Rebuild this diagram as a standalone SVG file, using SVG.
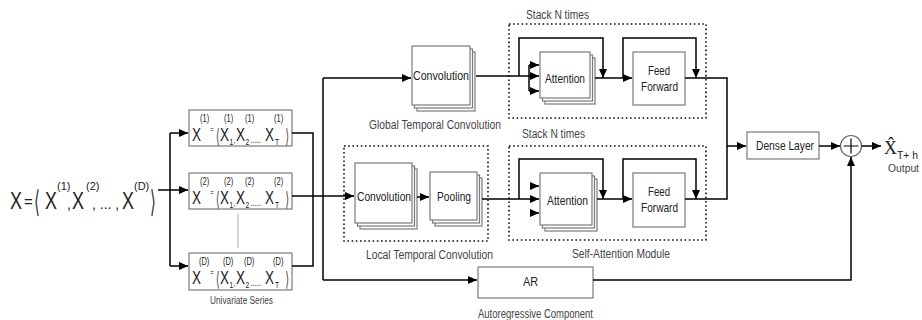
<svg xmlns="http://www.w3.org/2000/svg" width="922" height="320" viewBox="0 0 922 320">
<defs>
<style>
.t{font-family:"Liberation Sans",Arial,sans-serif;fill:#222}
.c{font-family:"Liberation Sans",Arial,sans-serif;fill:#444}
.box{fill:#fff;stroke:#7a7a7a;stroke-width:1.2}
.dot{fill:none;stroke:#111;stroke-width:1.6;stroke-dasharray:1.6 2.6}
.ln{fill:none;stroke:#000;stroke-width:1.5}
.ar{fill:none;stroke:#000;stroke-width:1.5;marker-end:url(#ah)}
.br{font-family:"DejaVu Sans",sans-serif;fill:#333}
.X{font-size:18px}
.sp{font-size:10px}
.sb{font-size:9px}
</style>
<marker id="ah" markerWidth="10" markerHeight="10" refX="9" refY="5" orient="auto" markerUnits="userSpaceOnUse">
<path d="M0,1 L9,5 L0,9 z" fill="#000"/>
</marker>
</defs>
<rect width="922" height="320" fill="#fff"/>

<g id="input-formula">
<text class="t" transform="translate(10,209) scale(0.78,1)" font-size="23">X</text>
<text class="t" x="24" y="207" font-size="15">=</text>
<text class="br" transform="translate(34,212) scale(0.5,1)" font-size="30">⟨</text>
<text class="t" transform="translate(45,209) scale(0.78,1)" font-size="23">X</text>
<text class="t" x="57" y="190" font-size="11">(1)</text>
<text class="t" x="67" y="209" font-size="14">,</text>
<text class="t" transform="translate(72,209) scale(0.78,1)" font-size="23">X</text>
<text class="t" x="86" y="190" font-size="11">(2)</text>
<text class="t" x="92" y="209" font-size="14">, ... ,</text>
<text class="t" transform="translate(122,209) scale(0.78,1)" font-size="23">X</text>
<text class="t" x="134" y="190" font-size="11">(D)</text>
<text class="br" transform="translate(150,212) scale(0.5,1)" font-size="30">⟩</text>
</g>

<g id="series-1">
<rect class="box" x="189" y="110" width="103" height="36"/>
<g transform="translate(0,110) scale(0.75,1)">
<text class="t X" x="256" y="31">X</text>
<text class="t sp" x="266.7" y="12">(1)</text>
<text class="t sb" x="280" y="22">=</text>
<g transform="translate(288,33) scale(0.6,1)"><text class="br" font-size="20">⟨</text></g>
<text class="t X" x="293.3" y="31">X</text>
<text class="t sb" x="306" y="35">1</text>
<text class="t sp" x="298.7" y="12">(1)</text>
<text class="t sb" x="311.3" y="33">,</text>
<text class="t X" x="314.7" y="31">X</text>
<text class="t sb" x="327.3" y="35">2</text>
<text class="t sp" x="326.7" y="12">(1)</text>
<text class="t sp" x="334" y="33">.....</text>
<text class="t X" x="353.3" y="31">X</text>
<text class="t sb" x="366.7" y="35">T</text>
<text class="t sp" x="365.3" y="12">(1)</text>
<g transform="translate(380.7,33) scale(0.6,1)"><text class="br" font-size="20">⟩</text></g>
</g>
</g>

<g id="series-2">
<rect class="box" x="189" y="173" width="103" height="36"/>
<g transform="translate(0,173) scale(0.75,1)">
<text class="t X" x="256" y="31">X</text>
<text class="t sp" x="266.7" y="12">(2)</text>
<text class="t sb" x="280" y="22">=</text>
<g transform="translate(288,33) scale(0.6,1)"><text class="br" font-size="20">⟨</text></g>
<text class="t X" x="293.3" y="31">X</text>
<text class="t sb" x="306" y="35">1</text>
<text class="t sp" x="298.7" y="12">(2)</text>
<text class="t sb" x="311.3" y="33">,</text>
<text class="t X" x="314.7" y="31">X</text>
<text class="t sb" x="327.3" y="35">2</text>
<text class="t sp" x="326.7" y="12">(2)</text>
<text class="t sp" x="334" y="33">.....</text>
<text class="t X" x="353.3" y="31">X</text>
<text class="t sb" x="366.7" y="35">T</text>
<text class="t sp" x="365.3" y="12">(2)</text>
<g transform="translate(380.7,33) scale(0.6,1)"><text class="br" font-size="20">⟩</text></g>
</g>
</g>

<g id="series-D">
<rect class="box" x="189" y="253" width="103" height="37"/>
<g transform="translate(0,253) scale(0.75,1)">
<text class="t X" x="256" y="31">X</text>
<text class="t sp" x="265.3" y="12">(D)</text>
<text class="t sb" x="280" y="22">=</text>
<g transform="translate(288,33) scale(0.6,1)"><text class="br" font-size="20">⟨</text></g>
<text class="t X" x="293.3" y="31">X</text>
<text class="t sb" x="306" y="35">1</text>
<text class="t sp" x="297.3" y="12">(D)</text>
<text class="t sb" x="311.3" y="33">,</text>
<text class="t X" x="314.7" y="31">X</text>
<text class="t sb" x="327.3" y="35">2</text>
<text class="t sp" x="325.3" y="12">(D)</text>
<text class="t sp" x="334" y="33">.....</text>
<text class="t X" x="353.3" y="31">X</text>
<text class="t sb" x="366.7" y="35">T</text>
<text class="t sp" x="364" y="12">(D)</text>
<g transform="translate(380.7,33) scale(0.6,1)"><text class="br" font-size="20">⟩</text></g>
</g>
<text class="c" x="210" y="304" font-size="10" textLength="63" lengthAdjust="spacingAndGlyphs">Univariate Series</text>
</g>

<g id="global-conv">
<rect class="box" x="417" y="52" width="58" height="59"/>
<rect class="box" x="414.5" y="49" width="58" height="59"/>
<rect class="box" x="412" y="46" width="58" height="59"/>
<text class="t" x="413" y="80" font-size="13" textLength="56" lengthAdjust="spacingAndGlyphs">Convolution</text>
<text class="c" x="369" y="129" font-size="12" textLength="132" lengthAdjust="spacingAndGlyphs">Global Temporal Convolution</text>
</g>

<g id="local-conv">
<rect class="dot" x="344" y="146" width="144" height="95"/>
<rect class="box" x="360" y="169" width="57" height="60"/>
<rect class="box" x="357.5" y="166" width="57" height="60"/>
<rect class="box" x="355" y="163" width="57" height="60"/>
<text class="t" x="357" y="201" font-size="13" textLength="54" lengthAdjust="spacingAndGlyphs">Convolution</text>
<rect class="box" x="435" y="178" width="47" height="48"/>
<rect class="box" x="432.5" y="175" width="47" height="48"/>
<rect class="box" x="430" y="172" width="47" height="48"/>
<text class="t" x="437" y="201" font-size="13" textLength="34" lengthAdjust="spacingAndGlyphs">Pooling</text>
<text class="c" x="366" y="259" font-size="12" textLength="127" lengthAdjust="spacingAndGlyphs">Local Temporal Convolution</text>
</g>

<g id="stack-top">
<text class="c" x="526" y="19" font-size="12" textLength="63" lengthAdjust="spacingAndGlyphs">Stack N times</text>
<rect class="dot" x="509" y="24" width="197" height="94"/>
<rect class="box" x="545" y="58" width="50" height="46"/>
<rect class="box" x="542.5" y="55" width="50" height="46"/>
<rect class="box" x="540" y="52" width="50" height="46"/>
<text class="t" x="545" y="83" font-size="13" textLength="40" lengthAdjust="spacingAndGlyphs">Attention</text>
<rect class="box" x="633" y="52" width="52" height="53"/>
<text class="t" x="648" y="75" font-size="13" textLength="22" lengthAdjust="spacingAndGlyphs">Feed</text>
<text class="t" x="641" y="91" font-size="13" textLength="37" lengthAdjust="spacingAndGlyphs">Forward</text>
</g>

<g id="stack-bottom">
<text class="c" x="522" y="138" font-size="12" textLength="63" lengthAdjust="spacingAndGlyphs">Stack N times</text>
<rect class="dot" x="509" y="146" width="197" height="94"/>
<rect class="box" x="545" y="179" width="52" height="52"/>
<rect class="box" x="542.5" y="176" width="52" height="52"/>
<rect class="box" x="540" y="173" width="52" height="52"/>
<text class="t" x="547" y="205" font-size="13" textLength="41" lengthAdjust="spacingAndGlyphs">Attention</text>
<rect class="box" x="633" y="173" width="52" height="54"/>
<text class="t" x="648" y="196" font-size="13" textLength="22" lengthAdjust="spacingAndGlyphs">Feed</text>
<text class="t" x="641" y="212" font-size="13" textLength="37" lengthAdjust="spacingAndGlyphs">Forward</text>
<text class="c" x="572" y="258" font-size="12" textLength="98" lengthAdjust="spacingAndGlyphs">Self-Attention Module</text>
</g>

<g id="ar">
<rect class="box" x="478" y="267" width="115" height="31"/>
<text class="t" x="523" y="286" font-size="13" textLength="15" lengthAdjust="spacingAndGlyphs">AR</text>
<text class="c" x="478" y="318" font-size="12" textLength="115" lengthAdjust="spacingAndGlyphs">Autoregressive Component</text>
</g>

<g id="dense">
<rect class="box" x="747" y="132" width="72" height="27"/>
<text class="t" x="756" y="150" font-size="13" textLength="58" lengthAdjust="spacingAndGlyphs">Dense Layer</text>
</g>

<g id="sum">
<circle cx="851" cy="146" r="10.5" fill="#fff" stroke="#666" stroke-width="1.2"/>
<path d="M851,138.5 V153.5 M843.5,146 H858.5" stroke="#000" stroke-width="1.2" fill="none"/>
</g>

<g id="output">
<text x="884" y="154" font-family="'Liberation Serif','DejaVu Serif',serif" font-size="18" fill="#222">X̂</text>
<text x="897" y="159" font-family="'Liberation Sans',Arial,sans-serif" font-size="10" fill="#222" textLength="21" lengthAdjust="spacingAndGlyphs">T+ h</text>
<text class="c" x="888" y="172" font-size="10.5" textLength="31" lengthAdjust="spacingAndGlyphs">Output</text>
</g>

<g id="connectors">
<path class="ar" d="M158,190 H188"/>
<path class="ln" d="M170,133 V266"/>
<path class="ar" d="M170,133 H188"/>
<path class="ar" d="M170,266 H188"/>
<path d="M238,214 V248" stroke="#aaa" stroke-width="1" fill="none"/>
<path class="ln" d="M292,133 H313 V266 H292"/>
<path class="ar" d="M292,196 H354"/>
<path class="ln" d="M323,78 V280"/>
<path class="ar" d="M323,78 H411"/>
<path class="ar" d="M323,280 H477"/>
<path class="ar" d="M417,197 H429"/>
<path class="ar" d="M476,76 H539"/>
<path class="ln" d="M529,65 V91"/>
<path class="ar" d="M529,65 H539"/>
<path class="ar" d="M529,91 H539"/>
<path class="ar" d="M519,76 V38 H603 V78"/>
<path class="ar" d="M595,78 H632"/>
<path class="ar" d="M623,78 V38 H696 V78"/>
<path class="ar" d="M482,199 H539"/>
<path class="ar" d="M530,186 H539"/>
<path class="ar" d="M530,213 H539"/>
<path class="ar" d="M519,199 V159 H603 V199"/>
<path class="ar" d="M597,199 H632"/>
<path class="ar" d="M623,199 V159 H696 V199"/>
<path class="ln" d="M685,78 H727 V199 H685"/>
<path class="ar" d="M727,146 H746"/>
<path class="ar" d="M819,146 H840"/>
<path class="ar" d="M861.5,146 H881"/>
<path class="ar" d="M593,280 H851 V157"/>
</g>
</svg>
